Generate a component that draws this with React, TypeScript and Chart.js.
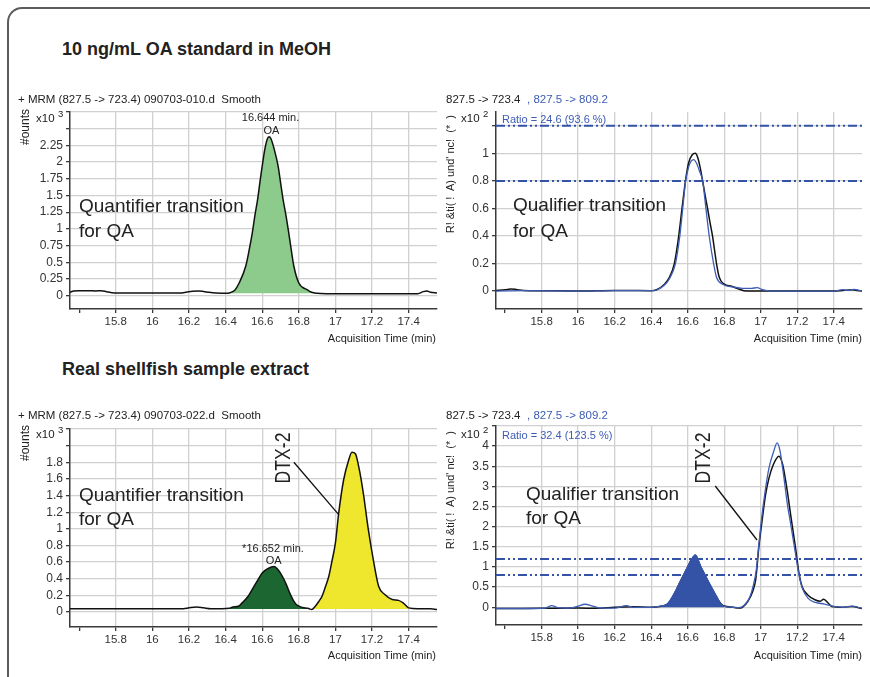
import React, { useEffect, useRef } from "react";
import { Chart, registerables } from "chart.js";

Chart.register(...registerables);

// ---------------- data ----------------
const timeMin = 15.55;
const timeMax = 17.555;
const xTicks = [15.6, 15.8, 16, 16.2, 16.4, 16.6, 16.8, 17, 17.2, 17.4];
const xTickLabels = ["", "15.8", "16", "16.2", "16.4", "16.6", "16.8", "17", "17.2", "17.4"];

// Panel 1: 10 ng/mL OA standard, quantifier (x10^3 counts)
const stdQuantTime = [15.55, 15.57, 15.6, 15.63, 15.66, 15.69, 15.72, 15.75, 15.78, 15.85, 16.0, 16.15, 16.19, 16.22, 16.25, 16.28, 16.31, 16.35, 16.4, 16.42, 16.45, 16.474, 16.51, 16.53, 16.546, 16.56, 16.575, 16.59, 16.6, 16.615, 16.627, 16.637, 16.648, 16.665, 16.687, 16.7, 16.714, 16.73, 16.745, 16.758, 16.773, 16.8, 16.845, 16.87, 16.9, 16.95, 17.1, 17.3, 17.45, 17.48, 17.5, 17.52, 17.555];
const stdQuantCounts = [0.05, 0.07, 0.075, 0.072, 0.075, 0.07, 0.074, 0.06, 0.045, 0.04, 0.04, 0.04, 0.055, 0.065, 0.07, 0.062, 0.05, 0.04, 0.035, 0.04, 0.08, 0.19, 0.44, 0.7, 0.94, 1.2, 1.44, 1.75, 1.94, 2.2, 2.34, 2.38, 2.35, 2.2, 1.94, 1.7, 1.44, 1.2, 0.94, 0.7, 0.44, 0.19, 0.09, 0.05, 0.035, 0.03, 0.03, 0.03, 0.03, 0.06, 0.07, 0.05, 0.04];
const stdOAWindow = [16.42, 16.9];
const stdBaseline = 0.035;
const p1YTicks = [0, 0.25, 0.5, 0.75, 1, 1.25, 1.5, 1.75, 2, 2.25, 2.5, 2.75];
const p1YLabels = ["0", "0.25", "0.5", "0.75", "1", "1.25", "1.5", "1.75", "2", "2.25", "", ""];

// Panel 2: standard, qualifier overlay (x10^2 relative abundance)
const stdQualTimeA = [15.55, 15.6, 15.63, 15.66, 15.7, 15.8, 16.0, 16.2, 16.3, 16.4, 16.43, 16.473, 16.5, 16.527, 16.551, 16.569, 16.588, 16.605, 16.625, 16.642, 16.655, 16.668, 16.682, 16.695, 16.709, 16.722, 16.736, 16.747, 16.758, 16.773, 16.8, 16.84, 16.88, 16.92, 17.0, 17.4, 17.45, 17.5, 17.53, 17.555];
const stdQual723 = [0.005, 0.01, 0.015, 0.012, 0.005, 0.003, 0.0, 0.005, 0.004, 0.003, 0.01, 0.05, 0.1, 0.2, 0.4, 0.6, 0.8, 0.93, 0.99, 1.0, 0.97, 0.9, 0.8, 0.7, 0.6, 0.5, 0.4, 0.3, 0.2, 0.1, 0.05, 0.035, 0.015, 0.0, 0.0, 0.0, 0.005, 0.01, 0.005, 0.0];
const stdQualTimeB = [15.55, 15.7, 16.0, 16.2, 16.4, 16.43, 16.47, 16.5, 16.533, 16.557, 16.573, 16.589, 16.605, 16.62, 16.633, 16.648, 16.665, 16.682, 16.7, 16.718, 16.742, 16.758, 16.791, 16.85, 16.9, 16.95, 16.98, 17.01, 17.05, 17.4, 17.45, 17.48, 17.51, 17.555];
const stdQual809 = [0.0, 0.003, 0.0, 0.004, 0.003, 0.008, 0.04, 0.09, 0.2, 0.4, 0.6, 0.8, 0.9, 0.945, 0.955, 0.93, 0.87, 0.8, 0.6, 0.4, 0.2, 0.1, 0.05, 0.03, 0.02, 0.02, 0.025, 0.01, 0.0, 0.0, 0.01, 0.005, 0.012, 0.0];
const stdQualLimits = [0.8, 1.2];
const p2YTicks = [0, 0.2, 0.4, 0.6, 0.8, 1, 1.2];
const p2YLabels = ["0", "0.2", "0.4", "0.6", "0.8", "1", ""];

// Panel 3: shellfish extract, quantifier (x10^3 counts)
const smpQuantTime = [15.55, 15.8, 16.0, 16.17, 16.2, 16.24, 16.28, 16.32, 16.38, 16.42, 16.44, 16.47, 16.49, 16.52, 16.545, 16.575, 16.6, 16.63, 16.664, 16.69, 16.71, 16.73, 16.75, 16.77, 16.786, 16.82, 16.85, 16.87, 16.89, 16.91, 16.927, 16.945, 16.964, 16.98, 17.0, 17.018, 17.045, 17.073, 17.09, 17.11, 17.127, 17.14, 17.155, 17.18, 17.21, 17.236, 17.27, 17.31, 17.345, 17.37, 17.4, 17.45, 17.52, 17.555];
const smpQuantCounts = [0.04, 0.04, 0.04, 0.04, 0.05, 0.06, 0.05, 0.04, 0.04, 0.045, 0.06, 0.07, 0.11, 0.18, 0.27, 0.38, 0.47, 0.52, 0.547, 0.5, 0.43, 0.34, 0.23, 0.14, 0.09, 0.055, 0.045, 0.03, 0.07, 0.13, 0.19, 0.3, 0.43, 0.6, 0.83, 1.19, 1.59, 1.83, 1.92, 1.9, 1.75, 1.6, 1.39, 0.99, 0.59, 0.31, 0.21, 0.15, 0.14, 0.11, 0.05, 0.04, 0.04, 0.03];
const smpOAWindow = [16.42, 16.87];
const smpDTXWindow = [16.87, 17.42];
const smpBaseline = 0.035;
const p3YTicks = [0, 0.2, 0.4, 0.6, 0.8, 1, 1.2, 1.4, 1.6, 1.8, 2, 2.2];
const p3YLabels = ["0", "0.2", "0.4", "0.6", "0.8", "1", "1.2", "1.4", "1.6", "1.8", "", ""];

// Panel 4: shellfish extract, qualifier overlay (x10^2 relative abundance)
const smpQualTimeA = [15.55, 15.7, 15.85, 16.0, 16.1, 16.2, 16.3, 16.4, 16.45, 16.48, 16.5, 16.527, 16.55, 16.573, 16.6, 16.62, 16.642, 16.66, 16.673, 16.69, 16.709, 16.73, 16.755, 16.78, 16.8, 16.85, 16.88, 16.9, 16.93, 16.955, 16.973, 16.99, 17.009, 17.027, 17.045, 17.07, 17.1, 17.12, 17.136, 17.15, 17.163, 17.19, 17.21, 17.227, 17.255, 17.3, 17.325, 17.345, 17.37, 17.39, 17.45, 17.5, 17.555];
const smpQual723 = [-0.03, -0.03, -0.025, -0.02, -0.025, 0.0, 0.01, 0.0, 0.02, 0.06, 0.1, 0.33, 0.55, 0.76, 1.0, 1.18, 1.26, 1.12, 0.98, 0.84, 0.66, 0.45, 0.28, 0.1, 0.03, 0.0, -0.02, 0.0, 0.15, 0.38, 0.7, 1.5, 2.2, 2.8, 3.2, 3.55, 3.75, 3.55, 3.16, 2.75, 2.33, 1.5, 0.84, 0.51, 0.32, 0.18, 0.15, 0.2, 0.1, 0.02, 0.0, 0.02, -0.03];
const smpQualTimeB = [15.55, 15.7, 15.82, 15.855, 15.89, 15.95, 16.0, 16.036, 16.08, 16.12, 16.2, 16.264, 16.3, 16.4, 16.45, 16.482, 16.527, 16.573, 16.61, 16.642, 16.673, 16.709, 16.755, 16.782, 16.8, 16.85, 16.88, 16.91, 16.94, 16.96, 16.975, 16.99, 17.005, 17.025, 17.045, 17.07, 17.09, 17.105, 17.125, 17.145, 17.163, 17.19, 17.21, 17.23, 17.26, 17.3, 17.35, 17.4, 17.45, 17.5, 17.555];
const smpQual809 = [-0.03, -0.03, -0.02, 0.04, -0.01, -0.02, 0.03, 0.075, 0.03, -0.02, -0.02, 0.04, 0.0, 0.0, 0.03, 0.06, 0.35, 0.76, 1.09, 1.3, 1.0, 0.68, 0.3, 0.08, 0.02, 0.0, -0.01, 0.05, 0.25, 0.55, 0.9, 1.55, 2.2, 2.9, 3.45, 3.85, 4.08, 3.9, 3.3, 2.6, 2.1, 1.35, 0.8, 0.45, 0.22, 0.12, 0.08, 0.02, 0.0, 0.03, -0.03];
const smpQualOAWindow = [16.45, 16.8];
const smpQualLimits = [0.8, 1.2];
const p4YTicks = [0, 0.5, 1, 1.5, 2, 2.5, 3, 3.5, 4, 4.5];
const p4YLabels = ["0", "0.5", "1", "1.5", "2", "2.5", "3", "3.5", "4", ""];

// ---------------- styles ----------------
const SANS = '"Liberation Sans", Arial, Helvetica, sans-serif';
const BLACK = "#111111";
const BLUE = "#3d5cb4";
const LIMIT_BLUE = "#3553a6";
const GRID = "#d0d0d0";
const AXIS = "#3a3a3a";

type XY = { x: number; y: number };
const pts = (t: number[], v: number[]): XY[] => t.map((x, i) => ({ x, y: v[i] }));
const within = (p: XY[], w: number[]) => p.filter((q) => q.x >= w[0] && q.x <= w[1]);

const overlayPlugin = {
  id: "overlays",
  afterDatasetsDraw(chart: any, _args: any, opts: any) {
    const { ctx, chartArea, scales } = chart;
    const xs = scales.x;
    const ys = scales.y;
    ctx.save();
    if (opts.limits && opts.limits.length) {
      ctx.strokeStyle = LIMIT_BLUE;
      ctx.lineWidth = 2;
      ctx.setLineDash([9, 3, 2, 3, 2, 3]);
      for (const v of opts.limits) {
        const py = ys.getPixelForValue(v);
        ctx.beginPath();
        ctx.moveTo(chartArea.left, py);
        ctx.lineTo(chartArea.right, py);
        ctx.stroke();
      }
    }
    if (opts.leader) {
      const l = opts.leader;
      ctx.setLineDash([]);
      ctx.strokeStyle = BLACK;
      ctx.lineWidth = 1.3;
      ctx.beginPath();
      ctx.moveTo(xs.getPixelForValue(l.from[0]), ys.getPixelForValue(l.from[1]));
      ctx.lineTo(xs.getPixelForValue(l.to[0]), ys.getPixelForValue(l.to[1]));
      ctx.stroke();
    }
    ctx.restore();
  },
};

type Area = { l: number; t: number; r: number; b: number };

function Panel(props: {
  area: Area;
  yMin: number;
  yMax: number;
  yTicks: number[];
  yLabels: string[];
  datasets: any[];
  limits?: number[];
  leader?: { from: number[]; to: number[] };
}) {
  const ref = useRef<HTMLCanvasElement>(null);
  const { area } = props;
  const padL = 50, padT = 10, padR = 5, xH = 25;
  const w = area.r - area.l + padL + padR;
  const h = area.b - area.t + padT + xH;
  useEffect(() => {
    const zeroPad = (s: any) => {
      s.paddingTop = 0;
      s.paddingBottom = 0;
      s.paddingLeft = 0;
      s.paddingRight = 0;
    };
    const chart = new Chart(ref.current as HTMLCanvasElement, {
      type: "line",
      data: { datasets: props.datasets },
      options: {
        responsive: false,
        animation: false,
        maintainAspectRatio: false,
        devicePixelRatio: 1,
        layout: { padding: { left: 0, top: padT, right: padR, bottom: 0 } },
        elements: { point: { radius: 0 }, line: { cubicInterpolationMode: "monotone" } },
        plugins: {
          legend: { display: false },
          tooltip: { enabled: false },
          overlays: { limits: props.limits || [], leader: props.leader || null },
        } as any,
        scales: {
          x: {
            type: "linear",
            min: timeMin,
            max: timeMax,
            afterBuildTicks: (s: any) => {
              s.ticks = xTicks.map((v) => ({ value: v }));
            },
            afterFit: (s: any) => {
              s.height = xH;
              zeroPad(s);
            },
            ticks: {
              autoSkip: false,
              maxRotation: 0,
              padding: 2,
              color: "#333",
              font: { family: SANS, size: 11.5 },
              callback: (_v: any, i: number) => xTickLabels[i],
            },
            grid: {
              color: (c: any) => (c.tick && c.tick.value === xTicks[0] ? "rgba(0,0,0,0)" : GRID),
              lineWidth: 1.3,
              tickColor: AXIS,
              tickLength: 4,
            },
            border: { color: AXIS, width: 1.5 },
          },
          y: {
            type: "linear",
            min: props.yMin,
            max: props.yMax,
            afterBuildTicks: (s: any) => {
              s.ticks = props.yTicks.map((v) => ({ value: v }));
            },
            afterFit: (s: any) => {
              s.width = padL;
              zeroPad(s);
            },
            ticks: {
              autoSkip: false,
              padding: 3,
              color: "#333",
              font: { family: SANS, size: 12 },
              callback: (_v: any, i: number) => props.yLabels[i],
            },
            grid: { color: GRID, lineWidth: 1.3, tickColor: AXIS, tickLength: 4 },
            border: { color: AXIS, width: 1.5 },
          },
        },
      } as any,
      plugins: [overlayPlugin as any],
    });
    return () => chart.destroy();
  }, []);
  return (
    <canvas
      ref={ref}
      width={w}
      height={h}
      style={{ position: "absolute", left: area.l - padL, top: area.t - padT, width: w, height: h, display: "block" }}
    />
  );
}

function Label(props: {
  x: number;
  y: number;
  size?: number;
  bold?: boolean;
  color?: string;
  anchor?: "start" | "middle" | "end";
  children: React.ReactNode;
}) {
  const a = props.anchor || "start";
  const tx = a === "middle" ? "-50%" : a === "end" ? "-100%" : "0";
  return (
    <div
      style={{
        position: "absolute",
        left: props.x,
        top: props.y,
        fontSize: props.size || 11,
        lineHeight: 1,
        fontWeight: props.bold ? 700 : 400,
        color: props.color || "#222",
        fontFamily: SANS,
        whiteSpace: "pre",
        transform: `translate(${tx}, -50%)`,
      }}
    >
      {props.children}
    </div>
  );
}

// rotated text whose end (top) sits at (x, yEnd)
function VTitle(props: { x: number; yEnd: number; size?: number; children: React.ReactNode }) {
  return (
    <div
      style={{
        position: "absolute",
        left: props.x,
        top: props.yEnd,
        fontSize: props.size || 11,
        lineHeight: 1,
        color: "#222",
        whiteSpace: "pre",
        transformOrigin: "0 0",
        transform: "rotate(-90deg) translate(-100%, -50%)",
      }}
    >
      {props.children}
    </div>
  );
}

function RotLabel(props: { x: number; y: number; size: number; children: React.ReactNode }) {
  return (
    <div
      style={{
        position: "absolute",
        left: props.x,
        top: props.y,
        fontSize: props.size,
        lineHeight: 1,
        color: "#222",
        whiteSpace: "pre",
        transform: "translate(-50%, -50%) rotate(-90deg) scaleX(0.8)",
      }}
    >
      {props.children}
    </div>
  );
}

function Exp(props: { x: number; y: number; e: string }) {
  return (
    <>
      <Label x={props.x} y={props.y} size={11.5}>x10</Label>
      <Label x={props.x + 22} y={props.y - 5} size={9.5}>{props.e}</Label>
    </>
  );
}

export default function App() {
  const std1 = pts(stdQuantTime, stdQuantCounts);
  const p1Data = [
    { data: std1, borderColor: BLACK, borderWidth: 1.5, fill: false, order: 0 },
    { data: within(std1, stdOAWindow), borderWidth: 0, borderColor: "rgba(0,0,0,0)", backgroundColor: "#8ccb8c", fill: { value: stdBaseline }, order: 1 },
  ];
  const p2Data = [
    { data: pts(stdQualTimeA, stdQual723), borderColor: BLACK, borderWidth: 1.5, fill: false, order: 1 },
    { data: pts(stdQualTimeB, stdQual809), borderColor: BLUE, borderWidth: 1.3, fill: false, order: 0 },
  ];
  const smp1 = pts(smpQuantTime, smpQuantCounts);
  const p3Data = [
    { data: smp1, borderColor: BLACK, borderWidth: 1.5, fill: false, order: 0 },
    { data: within(smp1, smpOAWindow), borderWidth: 0, borderColor: "rgba(0,0,0,0)", backgroundColor: "#1b6631", fill: { value: smpBaseline }, order: 1 },
    { data: within(smp1, smpDTXWindow), borderWidth: 0, borderColor: "rgba(0,0,0,0)", backgroundColor: "#efe62e", fill: { value: smpBaseline }, order: 2 },
  ];
  const smpB = pts(smpQualTimeB, smpQual809);
  const p4Data = [
    { data: within(smpB, smpQualOAWindow), borderWidth: 1, borderColor: LIMIT_BLUE, backgroundColor: LIMIT_BLUE, fill: { value: 0 }, order: 0 },
    { data: smpB, borderColor: BLUE, borderWidth: 1.3, fill: false, order: 1 },
    { data: pts(smpQualTimeA, smpQual723), borderColor: BLACK, borderWidth: 1.5, fill: false, order: 2 },
  ];

  return (
    <div
      style={{
        position: "absolute",
        left: 0,
        top: 0,
        width: 870,
        height: 677,
        background: "#fff",
        overflow: "hidden",
        fontFamily: SANS,
        color: "#222",
      }}
    >
      <div
        style={{
          position: "absolute",
          left: 7,
          top: 7,
          width: 900,
          height: 700,
          borderTop: "2px solid #5c5c5c",
          borderLeft: "2px solid #5c5c5c",
          borderTopLeftRadius: 15,
        }}
      />
      <Label x={62} y={49} size={18} bold>10 ng/mL OA standard in MeOH</Label>
      <Label x={62} y={369} size={18} bold>Real shellfish sample extract</Label>

      {/* Panel 1 */}
      <Panel area={{ l: 70, t: 112, r: 437, b: 309 }} yMin={-0.2} yMax={2.75} yTicks={p1YTicks} yLabels={p1YLabels} datasets={p1Data} />
      <Label x={18} y={100} size={11.5}>+ MRM (827.5 -&gt; 723.4) 090703-010.d  Smooth</Label>
      <VTitle x={25} yEnd={109} size={12}>#ounts</VTitle>
      <Exp x={36} y={119} e="3" />
      <Label x={270.5} y={117} anchor="middle">16.644 min.</Label>
      <Label x={271.5} y={129.5} anchor="middle">OA</Label>
      <Label x={79} y={205} size={19}>Quantifier transition</Label>
      <Label x={79} y={230} size={19}>for QA</Label>
      <Label x={436} y={338} anchor="end">Acquisition Time (min)</Label>

      {/* Panel 2 */}
      <Panel area={{ l: 496, t: 112, r: 862, b: 309 }} yMin={-0.13} yMax={1.3} yTicks={p2YTicks} yLabels={p2YLabels} datasets={p2Data} limits={stdQualLimits} />
      <Label x={446} y={100} size={11.5}>827.5 -&gt; 723.4</Label>
      <Label x={527} y={100} size={11.5} color={BLUE}>, 827.5 -&gt; 809.2</Label>
      <VTitle x={450} yEnd={115}>R! &amp;ti( !  A) und' nc!  (*  )</VTitle>
      <Exp x={461} y={119} e="2" />
      <Label x={502} y={119} color={BLUE}>Ratio = 24.6 (93.6 %)</Label>
      <Label x={513} y={204} size={19}>Qualifier transition</Label>
      <Label x={513} y={230} size={19}>for QA</Label>
      <Label x={862} y={338} anchor="end">Acquisition Time (min)</Label>

      {/* Panel 3 */}
      <Panel
        area={{ l: 70, t: 429, r: 437, b: 627 }}
        yMin={-0.18}
        yMax={2.2}
        yTicks={p3YTicks}
        yLabels={p3YLabels}
        datasets={p3Data}
        leader={{ from: [16.773, 1.8], to: [17.018, 1.17] }}
      />
      <Label x={18} y={416} size={11.5}>+ MRM (827.5 -&gt; 723.4) 090703-022.d  Smooth</Label>
      <VTitle x={25} yEnd={425} size={12}>#ounts</VTitle>
      <Exp x={36} y={435} e="3" />
      <Label x={273} y={547.5} anchor="middle">*16.652 min.</Label>
      <Label x={273.7} y={560} anchor="middle">OA</Label>
      <Label x={79} y={493.5} size={19}>Quantifier transition</Label>
      <Label x={79} y={518} size={19}>for QA</Label>
      <RotLabel x={282.5} y={457.5} size={22}>DTX-2</RotLabel>
      <Label x={436} y={655} anchor="end">Acquisition Time (min)</Label>

      {/* Panel 4 */}
      <Panel
        area={{ l: 496, t: 426, r: 862, b: 625 }}
        yMin={-0.44}
        yMax={4.5}
        yTicks={p4YTicks}
        yLabels={p4YLabels}
        datasets={p4Data}
        limits={smpQualLimits}
        leader={{ from: [16.751, 3.01], to: [16.98, 1.67] }}
      />
      <Label x={446} y={416} size={11.5}>827.5 -&gt; 723.4</Label>
      <Label x={527} y={416} size={11.5} color={BLUE}>, 827.5 -&gt; 809.2</Label>
      <VTitle x={450} yEnd={431}>R! &amp;ti( !  A) und' nc!  (*  )</VTitle>
      <Exp x={461} y={435} e="2" />
      <Label x={502} y={435} color={BLUE}>Ratio = 32.4 (123.5 %)</Label>
      <Label x={526} y={492.5} size={19}>Qualifier transition</Label>
      <Label x={526} y={517} size={19}>for QA</Label>
      <RotLabel x={702.5} y={457.5} size={22}>DTX-2</RotLabel>
      <Label x={862} y={655} anchor="end">Acquisition Time (min)</Label>
    </div>
  );
}
